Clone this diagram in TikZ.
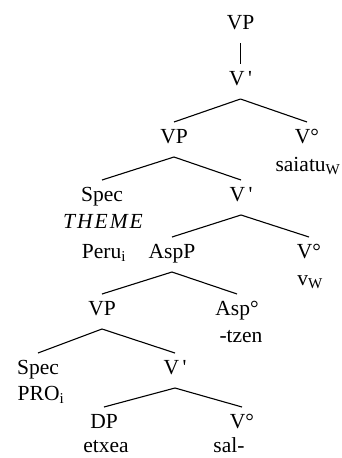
\documentclass[tikz,border=0pt]{standalone}
\usepackage{fontspec}
\setmainfont{Liberation Serif}
\begin{document}
\begin{tikzpicture}[x=1pt,y=-1pt,
  lab/.style={anchor=base, inner sep=0pt, outer sep=0pt, text height=21pt, text depth=14pt, font=\fontsize{21.5}{25}\selectfont},
  word/.style={anchor=base, inner sep=0pt, outer sep=0pt, font=\fontsize{21.5}{25}\selectfont},
  branch/.style={line width=1.1pt}]
\useasboundingbox (0,0) rectangle (341,458);
% level 1-2
\node[lab] (vp1) at (240.5,29) {VP};
\node[lab] (vb2) at (240.5,85) {V\,\textquotesingle};
% level 3
\node[lab] (vp3) at (174,143) {VP};
\node[lab] (v3) at (307,143) {V°};
\node[word] (saiatu) at (308,171) {saiatu\textsubscript{W}};
% level 4
\node[lab] (spec4) at (102,201) {Spec};
\node[word] (theme) at (103,228) {\textit{T\kern2pt H\kern2pt E\kern2pt M\kern2pt E}};
\node[word] (peru) at (104,258) {Peru\textsubscript{i}};
\node[lab] (vb4) at (241,201) {V\,\textquotesingle};
% level 5
\node[lab] (aspp) at (172,258) {AspP};
\node[lab] (v5) at (309,258) {V°};
\node[word] (vw) at (310,285) {v\textsubscript{W}};
% level 6
\node[lab] (vp6) at (102,315) {VP};
\node[lab] (asp6) at (237,315) {Asp°};
\node[word] (tzen) at (241,342) {-tzen};
% level 7
\node[lab] (spec7) at (38,374) {Spec};
\node[word] (pro) at (41,400) {PRO\textsubscript{i}};
\node[lab] (vb7) at (175,374) {V\,\textquotesingle};
% level 8
\node[lab] (dp8) at (104,428) {DP};
\node[lab] (v8) at (242,428) {V°};
\node[word] (etxea) at (106,452) {etxea};
\node[word] (sal) at (229,452) {sal-};
% branches
\draw[branch] (vp1.south) -- (vb2.north);
\draw[branch] (vb2.south) -- (vp3.north);
\draw[branch] (vb2.south) -- (v3.north);
\draw[branch] (vp3.south) -- (spec4.north);
\draw[branch] (vp3.south) -- (vb4.north);
\draw[branch] (vb4.south) -- (aspp.north);
\draw[branch] (vb4.south) -- (v5.north);
\draw[branch] (aspp.south) -- (vp6.north);
\draw[branch] (aspp.south) -- (asp6.north);
\draw[branch] (vp6.south) -- (spec7.north);
\draw[branch] (vp6.south) -- (vb7.north);
\draw[branch] (vb7.south) -- (dp8.north);
\draw[branch] (vb7.south) -- (v8.north);
\end{tikzpicture}
\end{document}
